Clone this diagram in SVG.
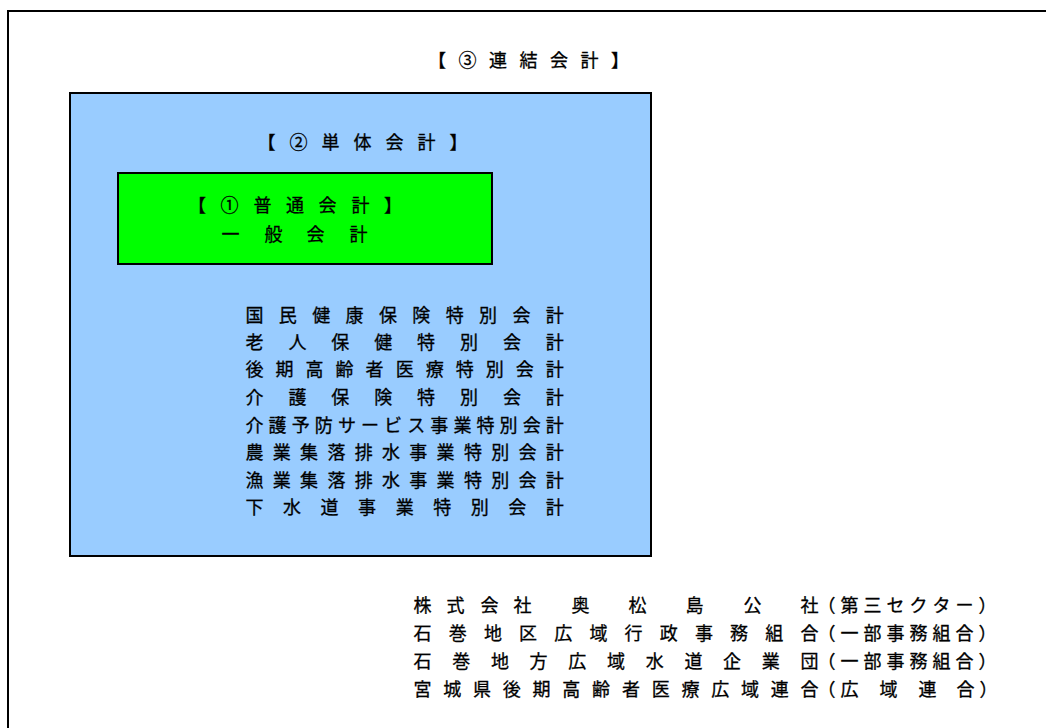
<svg xmlns="http://www.w3.org/2000/svg" width="1046" height="728" viewBox="0 0 1046 728">
<style>
text{font-family:"Noto Sans CJK JP","Noto Sans CJK SC",sans-serif;font-size:18px;fill:#000;stroke:#000;stroke-width:0.3px}
.frame{stroke:#000;stroke-width:2}
</style>
<rect x="0" y="0" width="1046" height="728" fill="#fff"/>
<g id="renketsu">
<rect class="frame" x="8" y="11" width="1100" height="800" fill="#fff"/>
<text x="428" y="67" letter-spacing="12.5">【③連結会計】</text>
</g>
<g id="tantai">
<rect class="frame" x="70" y="93" width="581" height="463" fill="#99CCFF"/>
<text x="257.5 289.5 321.5 353.5 385.5 417.5 449.5" y="148.5">【②単体会計】</text>
</g>
<g id="futsu">
<rect class="frame" x="118" y="173" width="374" height="91" fill="#00FF00"/>
<text x="188 220.5 253.5 286 318.5 351.5 384" y="211.5">【①普通会計】</text>
<text x="221.5 264.5 306.5 349.5" y="241">一般会計</text>
</g>
<g id="tokubetsu">
<text x="245.5 278.8 312.2 345.6 379 412.3 445.7 479.1 512.5 545.8" y="321.5">国民健康保険特別会計</text>
<text x="245.5 288.4 331.3 374.2 417.1 460 502.9 545.8" y="349">老人保健特別会計</text>
<text x="245.5 275.5 305.6 335.6 365.6 395.7 425.7 455.7 485.7 515.8 545.8" y="376">後期高齢者医療特別会計</text>
<text x="245.5 288.4 331.3 374.2 417.1 460 502.9 545.8" y="404">介護保険特別会計</text>
<text x="245.5 268.6 291.7 314.8 337.9 361 384.1 407.2 430.3 453.4 476.5 499.6 522.7 545.8" y="431.5">介護予防サービス事業特別会計</text>
<text x="245.5 272.8 300.1 327.4 354.7 382 409.3 436.6 463.9 491.2 518.5 545.8" y="459">農業集落排水事業特別会計</text>
<text x="245.5 272.8 300.1 327.4 354.7 382 409.3 436.6 463.9 491.2 518.5 545.8" y="486.5">漁業集落排水事業特別会計</text>
<text x="245.5 283 320.6 358.1 395.7 433.2 470.7 508.3 545.8" y="514">下水道事業特別会計</text>
</g>
<g id="gaibu">
<text x="413.5 446.5 480.5 513.5 571.5 628.5 685.5 743.5 800.5 817.5 840.5 863.5 886.5 909.5 932.5 955.5 978.5" y="612">株式会社奥松島公社（第三セクター）</text>
<text x="413.5 448.7 483.9 519 554.2 589.4 624.6 659.8 695 730.1 765.3 800.5 817.5 840.5 863.5 886.5 909.5 932.5 955.5 978.5" y="639.5">石巻地区広域行政事務組合（一部事務組合）</text>
<text x="413.5 452.2 490.9 529.6 568.3 607 645.7 684.4 723.1 761.8 800.5 817.5 840.5 863.5 886.5 909.5 932.5 955.5 978.5" y="667.5">石巻地方広域水道企業団（一部事務組合）</text>
<text x="413.5 443.3 473 502.8 532.6 562.3 592.1 621.9 651.7 681.4 711.2 741 770.7 800.5 817.5 840.5 879.5 918.5 956.5 979.5" y="695.5">宮城県後期高齢者医療広域連合（広域連合）</text>
</g>
<g id="connectors"/>
</svg>
